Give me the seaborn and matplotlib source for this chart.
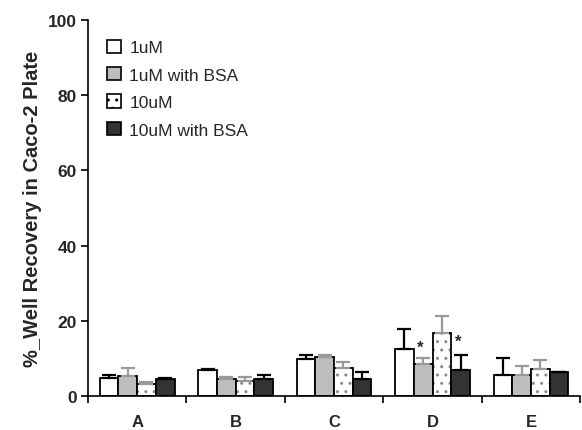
import numpy as np
import pandas as pd
import seaborn as sns
import matplotlib.pyplot as plt
import matplotlib.colors as mcolors
from matplotlib.patches import Patch

categories = ["A", "B", "C", "D", "E"]
series = ["1uM", "1uM with BSA", "10uM", "10uM with BSA"]
vals_1uM = [4.7, 6.8, 9.7, 12.5, 5.6]
err_1uM = [0.9, 0.5, 1.2, 5.2, 4.6]
vals_1uM_bsa = [5.2, 4.5, 10.3, 8.4, 5.6]
err_1uM_bsa = [2.2, 0.5, 0.6, 1.8, 2.4]
vals_10uM = [3.1, 3.85, 7.4, 16.8, 7.3]
err_10uM = [0.7, 1.25, 1.7, 4.4, 2.3]
vals_10uM_bsa = [4.4, 4.6, 4.6, 6.9, 6.3]
err_10uM_bsa = [0.3, 1.0, 1.8, 3.9, 0.2]
# significance stars: (series index, category index, height)
stars = [(1, 3, 13.0), (3, 3, 14.6)]

values = [vals_1uM, vals_1uM_bsa, vals_10uM, vals_10uM_bsa]
errors = [err_1uM, err_1uM_bsa, err_10uM, err_10uM_bsa]
fills = ["white", "#bdbdbd", "white", "#333333"]
hatches = [None, None, "..", None]
errcols = ["black", "#999999", "#999999", "black"]

rows = []
for s, v in zip(series, values):
    for c, y in zip(categories, v):
        rows.append([c, s, y])
df = pd.DataFrame(rows, columns=["cat", "series", "val"])

sns.set_style("white")
plt.rcParams["font.family"] = ["Liberation Sans", "DejaVu Sans"]

fig = plt.figure(figsize=(5.82, 4.31), dpi=100)
ax = fig.add_axes([0.151, 0.079, 0.846, 0.872])

sns.barplot(data=df, x="cat", y="val", hue="series", order=categories,
            hue_order=series, errorbar=None, width=0.76, ax=ax,
            palette=fills, legend=False)

bar_conts = list(ax.containers)
for i, cont in enumerate(bar_conts):
    xs = []
    for p in cont.patches:
        p.set_facecolor(fills[i])
        p.set_edgecolor("black")
        p.set_linewidth(1.3)
        if hatches[i]:
            p.set_hatch(hatches[i])
            try:
                p.set_hatchcolor("#8a8a8a")
            except AttributeError:
                p._hatch_color = mcolors.to_rgba("#8a8a8a")
        xs.append(p.get_x() + p.get_width() / 2)
    ax.errorbar(xs, values[i], yerr=[np.zeros(len(xs)), errors[i]], fmt="none",
                ecolor=errcols[i], elinewidth=1.6, capsize=5, capthick=1.6,
                zorder=1)
    for si, ci, h in stars:
        if si == i:
            p = cont.patches[ci]
            ax.text(p.get_x() + p.get_width() * 0.35, h, "*", ha="center",
                    va="center", fontsize=12, fontweight="bold")

ax.set_ylim(0, 100)
ax.set_xlim(-0.5, 4.5)
ax.set_yticks([0, 20, 40, 60, 80, 100])
ax.set_xticks(np.arange(-0.5, 5, 1), minor=True)
ax.tick_params(axis="x", which="major", length=0, pad=13, labelsize=12)
ax.tick_params(axis="x", which="minor", length=5, width=1.2, direction="out",
               color="black", bottom=True)
ax.tick_params(axis="y", length=5, width=1.2, direction="out", color="black",
               left=True, labelsize=12.5, pad=3)
for lab in ax.get_xticklabels() + ax.get_yticklabels():
    lab.set_fontweight("bold")
ax.set_xlabel("")
ax.set_ylabel("%_Well Recovery in Caco-2 Plate", fontsize=14.5,
              fontweight="bold", labelpad=4)
sns.despine(ax=ax)
for sp in ["left", "bottom"]:
    ax.spines[sp].set_color("black")
    ax.spines[sp].set_linewidth(1.2)

handles = []
for i, s in enumerate(series):
    h = Patch(facecolor=fills[i], edgecolor="black", linewidth=1.2,
              hatch=hatches[i], label=s)
    handles.append(h)
leg = ax.legend(handles=handles, loc="upper left", bbox_to_anchor=(0.008, 0.99),
                frameon=False, fontsize=12.5, handlelength=0.8,
                handleheight=0.8, handletextpad=0.45, labelspacing=0.68)

fig.savefig("out.png", dpi=100)
